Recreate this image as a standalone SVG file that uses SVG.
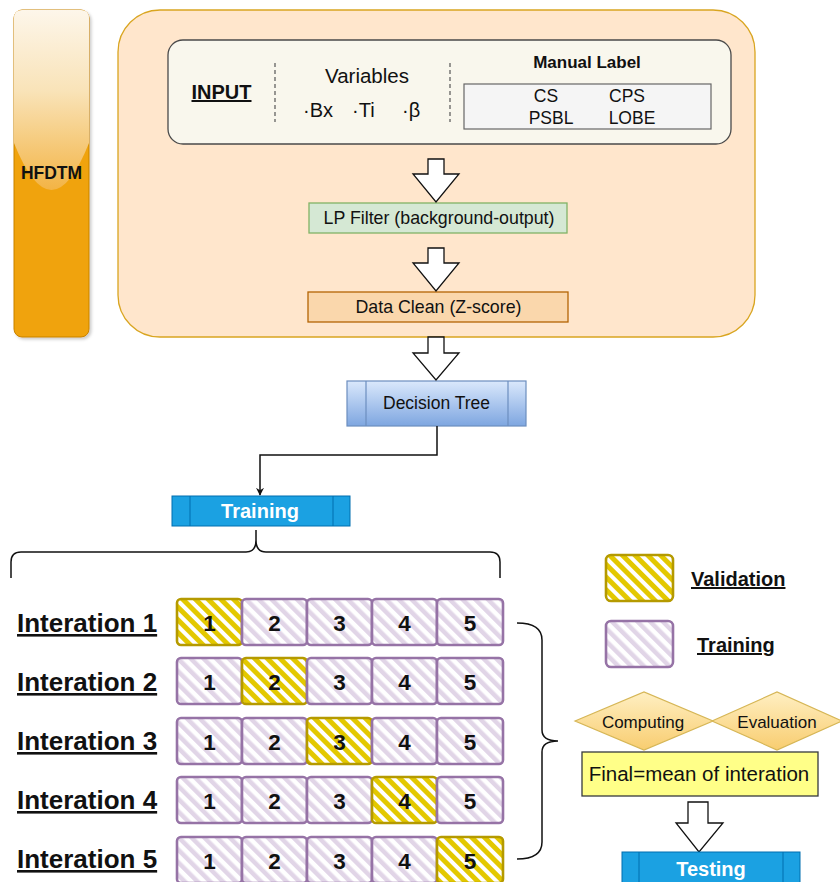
<svg xmlns="http://www.w3.org/2000/svg" width="840" height="882" viewBox="0 0 840 882">
<defs>
<style>
text{font-family:"Liberation Sans",Arial,sans-serif;fill:#111}
.b{font-weight:bold}
.u{text-decoration:underline}
.m{text-anchor:middle}
.blk{fill:#fff;stroke:#111;stroke-width:1.3;stroke-linejoin:miter}
.tr{fill:url(#hatchT);stroke:#9673a6;stroke-width:2.6}
.va{fill:url(#hatchV);stroke:#b59a00;stroke-width:2.6}
.num{font-size:22.5px;font-weight:bold;text-anchor:middle}
.it{font-size:26px;font-weight:bold;text-decoration:underline}
.conn{fill:none;stroke:#111;stroke-width:1.5}
.blue{fill:#1ba1e2;stroke:#006eaf;stroke-width:1}
</style>
<pattern id="hatchT" width="9" height="9" patternUnits="userSpaceOnUse" patternTransform="rotate(-45)">
<rect width="9" height="9" fill="#fff"/>
<rect width="4.5" height="9" fill="#e1d5e7"/>
</pattern>
<pattern id="hatchV" width="9" height="9" patternUnits="userSpaceOnUse" patternTransform="rotate(-45)">
<rect width="9" height="9" fill="#fff"/>
<rect width="5" height="9" fill="#e3c800"/>
</pattern>
<linearGradient id="gloss" x1="0" y1="0" x2="0" y2="1">
<stop offset="0" stop-color="#fdf6ea"/>
<stop offset="0.45" stop-color="#f9e3b8"/>
<stop offset="1" stop-color="#f3b445"/>
</linearGradient>
<linearGradient id="dt" x1="0" y1="0" x2="0" y2="1">
<stop offset="0" stop-color="#dae8fc"/>
<stop offset="1" stop-color="#7ea6e0"/>
</linearGradient>
<linearGradient id="dia" x1="0" y1="0" x2="0" y2="1">
<stop offset="0" stop-color="#ffefc2"/>
<stop offset="1" stop-color="#f8cd70"/>
</linearGradient>
<marker id="arr" viewBox="0 0 10 10" refX="9" refY="5" markerWidth="8" markerHeight="8" markerUnits="userSpaceOnUse" orient="auto">
<path d="M0,0 L10,5 L0,10 L3,5 Z" fill="#111"/>
</marker>
<filter id="sh" x="-20%" y="-5%" width="150%" height="115%">
<feDropShadow dx="2" dy="2" stdDeviation="1.5" flood-color="#000" flood-opacity="0.2"/>
</filter>
</defs>

<g id="hfdtm">
<rect x="14" y="10" width="75" height="327" rx="8" fill="#f0a30a" stroke="#c98200" stroke-width="1" filter="url(#sh)"/>
<path d="M14,18 Q14,10 22,10 H81 Q89,10 89,18 V143 Q51.5,237 14,143 Z" fill="url(#gloss)"/>
<text x="51.5" y="179" class="b m" font-size="17.5">HFDTM</text>
</g>

<g id="container">
<rect x="118" y="10" width="637" height="327" rx="42" fill="#ffe6cc" stroke="#d9a520" stroke-width="1.3"/>
</g>

<g id="input">
<rect x="168" y="40" width="563" height="104" rx="15" fill="#f9f7ed" stroke="#4a4a4a" stroke-width="1.3"/>
<text x="221.5" y="99" class="b u m" font-size="20">INPUT</text>
<line x1="275" y1="63" x2="275" y2="122" stroke="#555" stroke-width="1.2" stroke-dasharray="4,3"/>
<text x="367" y="83" class="m" font-size="20.5">Variables</text>
<text x="303" y="117" font-size="20">·Bx</text>
<text x="352" y="117" font-size="20">·Ti</text>
<text x="402" y="117" font-size="20">·β</text>
<line x1="450" y1="63" x2="450" y2="122" stroke="#555" stroke-width="1.2" stroke-dasharray="4,3"/>
<text x="587" y="68" class="b m" font-size="17">Manual Label</text>
<rect x="464" y="84" width="247" height="45" fill="#f5f5f5" stroke="#666" stroke-width="1.2"/>
<text x="546" y="102" class="m" font-size="17.5" fill="#333">CS</text>
<text x="627" y="102" class="m" font-size="17.5" fill="#333">CPS</text>
<text x="551" y="124" class="m" font-size="17.5" fill="#333">PSBL</text>
<text x="632" y="124" class="m" font-size="17.5" fill="#333">LOBE</text>
</g>

<g id="lpfilter">
<rect x="309" y="203" width="258" height="30" fill="#d5e8d4" stroke="#82b366" stroke-width="1.3"/>
<text x="439" y="224" class="m" font-size="17.8">LP Filter (background-output)</text>
</g>

<g id="dataclean">
<rect x="308" y="292" width="260" height="30" fill="#fad7ac" stroke="#b46504" stroke-width="1.3"/>
<text x="438.5" y="313" class="m" font-size="17.8">Data Clean (Z-score)</text>
</g>

<g id="decisiontree">
<rect x="347" y="381" width="179" height="45" fill="url(#dt)" stroke="#6c8ebf" stroke-width="1.2"/>
<line x1="366" y1="381" x2="366" y2="426" stroke="#6c8ebf" stroke-width="1.2"/>
<line x1="508" y1="381" x2="508" y2="426" stroke="#6c8ebf" stroke-width="1.2"/>
<text x="436.5" y="409" class="m" font-size="17.5">Decision Tree</text>
</g>

<g id="training">
<rect x="172" y="496" width="178" height="30" class="blue"/>
<line x1="190" y1="496" x2="190" y2="526" stroke="#006eaf"/>
<line x1="333" y1="496" x2="333" y2="526" stroke="#006eaf"/>
<text x="260" y="518" class="b m" font-size="20" style="fill:#fff">Training</text>
</g>

<g id="connectors">
<path class="blk" d="M428,159 H444 V174 H459 L436,202 L413,174 H428 Z"/>
<path class="blk" d="M428,248 H444 V263 H459 L436,291 L413,263 H428 Z"/>
<path class="blk" d="M428,337 H444 V353 H459 L436,380 L413,353 H428 Z"/>
<path class="conn" d="M437,426 V455 H260 V495" marker-end="url(#arr)"/>
<path class="conn" d="M11,578 V562 Q11,552 21,552 H246 Q256,552 256,540 V530 M256,540 Q256,552 266,552 H490 Q500,552 500,562 V578" stroke-width="1.4"/>
<path class="conn" d="M517,623 Q542,623 542,640 V730 Q542,741 558,741 Q542,741 542,752 V842 Q542,859 517,859" stroke-width="1.4"/>
<path class="blk" d="M688,802 H708 V823 H723 L699,852 L676,823 H688 Z"/>
</g>

<g id="iter1">
<text x="17" y="632" class="it">Interation 1</text>
<g id="r1c1"><rect x="177" y="599" width="65" height="46" rx="4" class="va"/><text x="209.5" y="631" class="num">1</text></g>
<g id="r1c2"><rect x="242" y="599" width="65" height="46" rx="4" class="tr"/><text x="274.5" y="631" class="num">2</text></g>
<g id="r1c3"><rect x="307" y="599" width="65" height="46" rx="4" class="tr"/><text x="339.5" y="631" class="num">3</text></g>
<g id="r1c4"><rect x="372" y="599" width="65" height="46" rx="4" class="tr"/><text x="404.5" y="631" class="num">4</text></g>
<g id="r1c5"><rect x="437" y="599" width="66" height="46" rx="4" class="tr"/><text x="470" y="631" class="num">5</text></g>
</g>

<g id="iter2">
<text x="17" y="691" class="it">Interation 2</text>
<g id="r2c1"><rect x="177" y="658" width="65" height="46" rx="4" class="tr"/><text x="209.5" y="690" class="num">1</text></g>
<g id="r2c2"><rect x="242" y="658" width="65" height="46" rx="4" class="va"/><text x="274.5" y="690" class="num">2</text></g>
<g id="r2c3"><rect x="307" y="658" width="65" height="46" rx="4" class="tr"/><text x="339.5" y="690" class="num">3</text></g>
<g id="r2c4"><rect x="372" y="658" width="65" height="46" rx="4" class="tr"/><text x="404.5" y="690" class="num">4</text></g>
<g id="r2c5"><rect x="437" y="658" width="66" height="46" rx="4" class="tr"/><text x="470" y="690" class="num">5</text></g>
</g>

<g id="iter3">
<text x="17" y="750" class="it">Interation 3</text>
<g id="r3c1"><rect x="177" y="718" width="65" height="46" rx="4" class="tr"/><text x="209.5" y="750" class="num">1</text></g>
<g id="r3c2"><rect x="242" y="718" width="65" height="46" rx="4" class="tr"/><text x="274.5" y="750" class="num">2</text></g>
<g id="r3c3"><rect x="307" y="718" width="65" height="46" rx="4" class="va"/><text x="339.5" y="750" class="num">3</text></g>
<g id="r3c4"><rect x="372" y="718" width="65" height="46" rx="4" class="tr"/><text x="404.5" y="750" class="num">4</text></g>
<g id="r3c5"><rect x="437" y="718" width="66" height="46" rx="4" class="tr"/><text x="470" y="750" class="num">5</text></g>
</g>

<g id="iter4">
<text x="17" y="809" class="it">Interation 4</text>
<g id="r4c1"><rect x="177" y="777" width="65" height="46" rx="4" class="tr"/><text x="209.5" y="809" class="num">1</text></g>
<g id="r4c2"><rect x="242" y="777" width="65" height="46" rx="4" class="tr"/><text x="274.5" y="809" class="num">2</text></g>
<g id="r4c3"><rect x="307" y="777" width="65" height="46" rx="4" class="tr"/><text x="339.5" y="809" class="num">3</text></g>
<g id="r4c4"><rect x="372" y="777" width="65" height="46" rx="4" class="va"/><text x="404.5" y="809" class="num">4</text></g>
<g id="r4c5"><rect x="437" y="777" width="66" height="46" rx="4" class="tr"/><text x="470" y="809" class="num">5</text></g>
</g>

<g id="iter5">
<text x="17" y="868" class="it">Interation 5</text>
<g id="r5c1"><rect x="177" y="837" width="65" height="46" rx="4" class="tr"/><text x="209.5" y="869" class="num">1</text></g>
<g id="r5c2"><rect x="242" y="837" width="65" height="46" rx="4" class="tr"/><text x="274.5" y="869" class="num">2</text></g>
<g id="r5c3"><rect x="307" y="837" width="65" height="46" rx="4" class="tr"/><text x="339.5" y="869" class="num">3</text></g>
<g id="r5c4"><rect x="372" y="837" width="65" height="46" rx="4" class="tr"/><text x="404.5" y="869" class="num">4</text></g>
<g id="r5c5"><rect x="437" y="837" width="66" height="46" rx="4" class="va"/><text x="470" y="869" class="num">5</text></g>
</g>

<g id="legend-validation">
<rect x="606" y="555" width="67" height="46" rx="5" class="va"/>
<text x="691" y="586" class="b u" font-size="20">Validation</text>
</g>
<g id="legend-training">
<rect x="606" y="621" width="67" height="46" rx="5" class="tr"/>
<text x="697" y="652" class="b u" font-size="20">Training</text>
</g>

<g id="computing">
<path d="M575,721 L644,692 L713,721 L644,750 Z" fill="url(#dia)" stroke="#d6b656" stroke-width="1.2"/>
<text x="643" y="728" class="m" font-size="17" fill="#222">Computing</text>
</g>
<g id="evaluation">
<path d="M712,721 L777,692 L842,721 L777,750 Z" fill="url(#dia)" stroke="#d6b656" stroke-width="1.2"/>
<text x="777" y="728" class="m" font-size="17" fill="#222">Evaluation</text>
</g>

<g id="final">
<rect x="582" y="752" width="236" height="44" fill="#ffff88" stroke="#36393d" stroke-width="1.3"/>
<text x="699" y="781" class="m" font-size="20.5">Final=mean of interation</text>
</g>

<g id="testing">
<rect x="622" y="852" width="178" height="34" class="blue"/>
<line x1="639" y1="852" x2="639" y2="882" stroke="#006eaf"/>
<line x1="783" y1="852" x2="783" y2="882" stroke="#006eaf"/>
<text x="711" y="876" class="b m" font-size="20" style="fill:#fff">Testing</text>
</g>
</svg>
